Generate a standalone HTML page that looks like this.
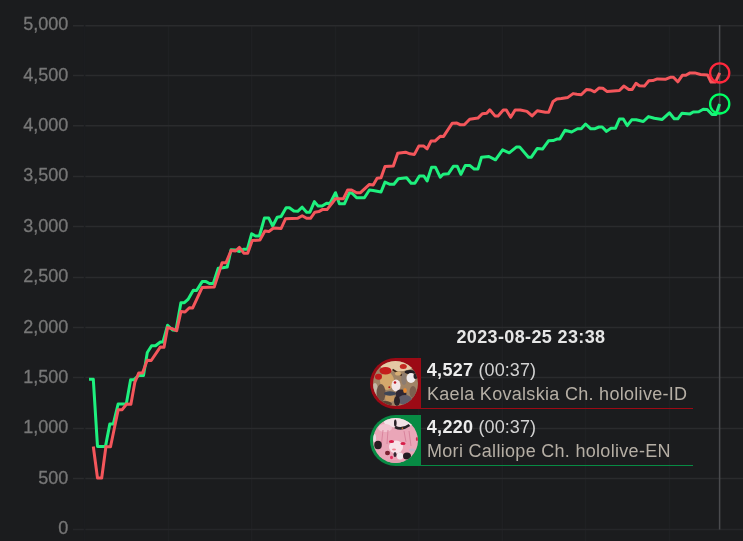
<!DOCTYPE html>
<html><head><meta charset="utf-8">
<style>
html,body{margin:0;padding:0;background:#1b1c1e;width:743px;height:541px;overflow:hidden}
body{position:relative;font-family:"Liberation Sans",sans-serif}
.t,svg text{opacity:0.999}
svg{position:absolute;left:0;top:0}
.t{position:absolute;white-space:pre;font-size:18px;line-height:20px}
.title{font-weight:bold;color:#e6e6e6;letter-spacing:0.37px}
.val b{color:#ececec;letter-spacing:0.3px}
.val span{color:#d2d2d2;letter-spacing:0.1px}
.name{color:#b6afa5;letter-spacing:0.3px}
</style></head>
<body>
<svg width="743" height="541" viewBox="0 0 743 541">
 <g stroke="#1f2023" stroke-width="1.5" fill="none">
  <line x1="168.5" y1="25" x2="168.5" y2="541"/>
  <line x1="251.7" y1="25" x2="251.7" y2="541"/>
  <line x1="335.5" y1="25" x2="335.5" y2="541"/>
  <line x1="418.8" y1="25" x2="418.8" y2="541"/>
  <line x1="502.3" y1="25" x2="502.3" y2="541"/>
  <line x1="585.5" y1="25" x2="585.5" y2="541"/>
  <line x1="669.5" y1="25" x2="669.5" y2="541"/>
 </g>
 <g stroke="#2a2b2d" stroke-width="1.5" fill="none">
  <line x1="73" y1="25.7" x2="743" y2="25.7"/>
  <line x1="73" y1="75.6" x2="743" y2="75.6"/>
  <line x1="73" y1="125.7" x2="743" y2="125.7"/>
  <line x1="73" y1="176.5" x2="743" y2="176.5"/>
  <line x1="73" y1="226.5" x2="743" y2="226.5"/>
  <line x1="73" y1="277.5" x2="743" y2="277.5"/>
  <line x1="73" y1="327.5" x2="743" y2="327.5"/>
  <line x1="73" y1="377.5" x2="743" y2="377.5"/>
  <line x1="73" y1="428.5" x2="743" y2="428.5"/>
  <line x1="73" y1="478.5" x2="743" y2="478.5"/>
 </g>
 <line x1="73" y1="529.6" x2="743" y2="529.6" stroke="#252629" stroke-width="1.5"/>
 <line x1="84.6" y1="25" x2="84.6" y2="541" stroke="#1c1d20" stroke-width="1.5"/>
 <g font-family="Liberation Sans" font-size="18" fill="#777777" stroke="#777777" stroke-width="0.3" text-anchor="end">
  <text x="68.3" y="30.2">5,000</text>
  <text x="68.3" y="80.6">4,500</text>
  <text x="68.3" y="131.0">4,000</text>
  <text x="68.3" y="181.4">3,500</text>
  <text x="68.3" y="231.8">3,000</text>
  <text x="68.3" y="282.2">2,500</text>
  <text x="68.3" y="332.6">2,000</text>
  <text x="68.3" y="383.0">1,500</text>
  <text x="68.3" y="433.4">1,000</text>
  <text x="68.3" y="483.8">500</text>
  <text x="68.3" y="534.2">0</text>
 </g>
 <line x1="719.6" y1="25" x2="719.6" y2="529.6" stroke="#4a4b4e" stroke-width="1.5"/>
 <polyline points="89,379.3 93.3,379.3 97.5,446.4 105.5,446.4 109.8,424.1 113.3,424.1 118.1,404 126.3,404 130.6,379.7 134,379.7 138.5,375.6 143.5,375.6 147.3,352.5 151.6,345.8 155.5,345.8 160.4,342 163,342 167.6,325.2 172.5,330 176,330.3 180.9,302.7 184.4,302.7 188,299.4 193.3,290.3 196.6,290.5 202.2,281.6 206,281.6 209.4,283.5 213.3,283.5 218.2,268.3 222.7,267.8 227.2,267.1 231,249.8 235.3,250 239.5,251.5 243.5,249.2 247.4,249.2 251.6,233.8 255.5,236 259.4,236 264.4,218.1 268.8,218.1 272.7,226 277.2,217.2 281.1,216.6 286.1,207.7 289.4,207.7 293.8,211 297.7,211.3 302.2,207.2 306.6,212.2 309.9,212.2 314.4,201.6 318.2,206.1 322.1,206.1 326.6,203.3 330,203.5 335.5,192.7 339.4,203.8 344.4,203.8 349.4,192.7 352.2,193.3 356.6,197.7 364.4,197.7 369.4,190 373.2,190.5 381,192 385,182.1 390,184.3 393.9,184.3 398.3,178.8 406.6,177.7 411.1,183.2 414.9,183.2 419.4,176 423.8,176 427.1,181 431.6,167.2 435.4,167.2 440.2,177.2 443.1,174.3 448.3,173.8 453.5,166.2 457.2,166.2 460.9,174.3 465.3,165.4 469.7,165.4 474.2,169.1 477.9,169.1 481.5,157.3 488.9,156.5 495.5,159.8 502.6,149.8 509.2,152.8 516.6,146.9 519.6,146.9 528.4,157.2 531.4,157.2 537.3,148.4 542.5,149.1 548.5,140.8 553.1,140.6 556.8,139.1 559.8,139.1 565,130.2 571.6,132 577.5,128.8 581.2,128.8 585.6,124 590.8,128.8 594.5,128.8 598.9,127 602.2,127 606.5,131.4 611,128.2 615.5,128.2 619.4,119.1 623.3,119.1 627.2,125.6 631.7,119.8 636.2,119.8 643.3,121.5 648.5,116.6 654.3,118.3 662.2,119.4 669.4,112.8 674.2,118.8 677.8,118.8 682,113.2 690,113.9 693.2,112 698.8,111.7 703.2,109.3 707.2,109.5 712,114.4 716,114.6 719.6,104.1" fill="none" stroke="#1ef07e" stroke-width="3" stroke-linejoin="round"/>
 <polyline points="93.3,446.5 97.5,478 101.7,478 105.9,446.8 110.5,446.8 118.2,409.7 122.2,409.7 126.6,404 130.9,404.3 134.8,382.4 138.7,373 142.5,373 147.2,360.3 151.2,360.5 160.4,346.9 164,347.3 167.6,327.6 172.5,328.8 176.7,330.6 180.9,311.6 185,312 189.4,307.7 192.7,307.9 202.1,287.6 214.2,287.1 222.1,262.8 226,262.8 231.1,250.5 235.5,251 239.4,247.4 243.8,253.2 247.7,253.2 252.2,240.5 259.9,240 264.9,231.1 268.8,231.6 273.5,228 281.1,228.5 285.5,218.8 297.7,218.3 302.2,215.7 306.6,218.3 310.5,218.3 314.9,212.2 318.8,211.6 322.7,209.4 327,209.6 335.5,198.8 343.3,198.8 347.7,190 351.6,190 356.6,192.7 360.5,192.7 369.4,184.4 373.2,185 377.1,178.3 381,177.7 385,166.6 393.3,166 397.7,153.3 405.5,152.2 409.9,153.8 414.4,154.4 418.8,146.1 423.8,146.1 427.1,148.9 431,141.1 434.9,141.1 440.2,136.3 443.6,136.4 452.2,123.2 456.9,123.1 460,124.7 464.3,124.7 469.7,119.2 477.9,118.1 482.3,113.7 486.7,113.3 489.8,109.8 495,115.9 498.1,115.9 503.3,110 506.3,110 510.7,117.3 515.1,110 520.3,110 526.9,111.4 532.1,115.9 537.3,110.7 545.4,112.2 548.7,112.3 553.1,101.4 556.8,98.9 561.3,98.5 567.9,97.4 573.1,93.6 576.8,94.3 581.2,94.8 586.4,89.6 590.8,90 594.5,91.8 598.9,88.1 602.8,88.3 607.2,91.6 613.3,91.1 619.4,90.5 623.8,86.1 628.8,89.4 632.2,89.4 636,83.3 639.4,85.7 644.4,86.1 648.8,80.8 652.8,80.6 657.3,78.9 665.3,79.3 670.2,77.3 673.4,77.3 677.8,81.8 682.3,75.3 685.9,75.3 690,72.9 694.8,72.9 700.5,74.5 707.5,74.9 711,82 715.6,82 719.7,72.9" fill="none" stroke="#f4565b" stroke-width="3" stroke-linejoin="round"/>
 <circle cx="719.7" cy="72.9" r="9.6" fill="none" stroke="#ff283c" stroke-width="2.3"/>
 <circle cx="719.7" cy="103.9" r="9.6" fill="none" stroke="#00ff64" stroke-width="2.3"/>
</svg>

<div class="t title" style="left:456.4px;top:327px">2023-08-25 23:38</div>

<!-- row 1 -->
<div style="position:absolute;left:370px;top:358px;width:51px;height:51px;background:#9c0a15;border-radius:25.5px 0 0 25.5px"></div>
<div style="position:absolute;left:421px;top:407.7px;width:272px;height:1.5px;background:#9c0a15"></div>
<svg style="left:373px;top:361px" width="45" height="45" viewBox="0 0 45 45">
 <defs><clipPath id="c1"><circle cx="22.5" cy="22.5" r="22.5"/></clipPath>
 <filter id="bl1" x="-20%" y="-20%" width="140%" height="140%"><feGaussianBlur stdDeviation="0.55"/></filter></defs>
 <g clip-path="url(#c1)">
  <rect width="45" height="45" fill="#a08466"/>
  <g filter="url(#bl1)">
   <ellipse cx="24" cy="4" rx="17" ry="6.5" fill="#e4c8a4"/>
   <ellipse cx="14" cy="20" rx="7" ry="9" fill="#d4a86c"/>
   <ellipse cx="2" cy="29" rx="3" ry="7" fill="#c4b8a8"/>
   <ellipse cx="8" cy="32" rx="4.5" ry="9" fill="#685244"/>
   <ellipse cx="17" cy="37" rx="5" ry="4" fill="#c89a62"/>
   <ellipse cx="17" cy="32.5" rx="6" ry="2.2" fill="#3e4456"/>
   <ellipse cx="12.5" cy="9.8" rx="6" ry="3.8" fill="#c41a1e"/>
   <ellipse cx="5.5" cy="15.7" rx="3.5" ry="3" fill="#c01a1c"/>
   <ellipse cx="30.3" cy="5.5" rx="3.5" ry="2.5" fill="#c42a20"/>
   <line x1="19.5" y1="8.5" x2="29" y2="14.5" stroke="#3a2418" stroke-width="1.8"/>
   <ellipse cx="25" cy="12.5" rx="3" ry="2" fill="#d6ae74"/>
   <ellipse cx="23" cy="24.5" rx="4.5" ry="6" fill="#f2e6e6"/>
   <circle cx="22" cy="21.5" r="1.3" fill="#c01820"/>
   <circle cx="16.3" cy="26.3" r="1" fill="#b01818"/>
   <ellipse cx="31" cy="18" rx="2.8" ry="6" fill="#8c7c70"/>
   <ellipse cx="37" cy="11" rx="5.5" ry="2" fill="#201c20"/>
   <ellipse cx="38" cy="17" rx="4.5" ry="5" fill="#f0ecee"/>
   <ellipse cx="42.5" cy="15" rx="2" ry="3" fill="#282428"/>
   <ellipse cx="40" cy="31" rx="3.5" ry="6" fill="#7c6050"/>
   <ellipse cx="28" cy="33" rx="5.5" ry="4.5" fill="#2e2830"/>
   <ellipse cx="32" cy="39" rx="7" ry="5" fill="#5e5c68"/>
   <ellipse cx="32" cy="29.5" rx="1.8" ry="2.5" fill="#e88a30"/>
   <ellipse cx="24" cy="40" rx="3" ry="5" fill="#2a2428"/>
   <ellipse cx="12" cy="43" rx="7" ry="3" fill="#5a4232"/>
  </g>
 </g>
</svg>
<div class="t val" style="left:426.8px;top:359.8px"><b>4,527</b><span> (00:37)</span></div>
<div class="t name" style="left:427px;top:383.9px">Kaela Kovalskia Ch. hololive-ID</div>

<!-- row 2 -->
<div style="position:absolute;left:370px;top:415px;width:51px;height:51px;background:#078b44;border-radius:25.5px 0 0 25.5px"></div>
<div style="position:absolute;left:421px;top:464.5px;width:272px;height:1.5px;background:#078b44"></div>
<svg style="left:373px;top:418px" width="45" height="45" viewBox="0 0 45 45">
 <defs><clipPath id="c2"><circle cx="22.5" cy="22.5" r="22.5"/></clipPath>
 <filter id="bl2" x="-20%" y="-20%" width="140%" height="140%"><feGaussianBlur stdDeviation="0.55"/></filter></defs>
 <g clip-path="url(#c2)">
  <rect width="45" height="45" fill="#eaa6b8"/>
  <g filter="url(#bl2)">
   <ellipse cx="26" cy="4" rx="15" ry="5.5" fill="#f4e2e6"/>
   <ellipse cx="12" cy="10" rx="7" ry="4" fill="#f2c4d0"/>
   <path d="M22 9 Q29 12.5 36.5 7" stroke="#2a2028" stroke-width="2.6" fill="none"/>
   <ellipse cx="22.3" cy="5" rx="1.3" ry="3.5" fill="#2a2028"/>
   <circle cx="29.4" cy="10.2" r="0.8" fill="#d07020"/>
   <g stroke="#d6809a" stroke-width="0.9">
    <line x1="10" y1="12" x2="8" y2="30"/><line x1="15" y1="12" x2="14" y2="26"/>
    <line x1="31" y1="13" x2="33" y2="24"/><line x1="36" y1="13" x2="38" y2="28"/>
   </g>
   <ellipse cx="23" cy="29" rx="7" ry="6.5" fill="#f8e2e8"/>
   <ellipse cx="18.5" cy="23.5" rx="2.6" ry="1.5" fill="#d81c48"/>
   <ellipse cx="30" cy="25.5" rx="2.6" ry="1.6" fill="#d81c48"/>
   <ellipse cx="21" cy="31.5" rx="2" ry="1" fill="#f08494"/>
   <ellipse cx="5" cy="27" rx="3.8" ry="4.2" fill="#2c1c24"/>
   <ellipse cx="14.5" cy="35" rx="2.5" ry="2.2" fill="#7a2030"/>
   <ellipse cx="18.5" cy="39.5" rx="1.5" ry="1.8" fill="#e03060"/>
   <ellipse cx="27" cy="38" rx="3.2" ry="3.5" fill="#f2eaee"/>
   <ellipse cx="34" cy="38" rx="4" ry="3.5" fill="#241a20"/>
   <ellipse cx="22" cy="36.5" rx="1.5" ry="2.5" fill="#302830"/>
   <ellipse cx="39" cy="32" rx="3" ry="1.5" fill="#c8b0c8"/>
   <ellipse cx="44" cy="21" rx="1.2" ry="2" fill="#d02850"/>
   <ellipse cx="1.5" cy="20" rx="1.5" ry="4" fill="#e8dce0"/>
   <ellipse cx="22" cy="44" rx="10" ry="2" fill="#e0a0b0"/>
  </g>
 </g>
</svg>
<div class="t val" style="left:426.8px;top:417.2px"><b>4,220</b><span> (00:37)</span></div>
<div class="t name" style="left:427px;top:440.8px">Mori Calliope Ch. hololive-EN</div>
</body></html>
